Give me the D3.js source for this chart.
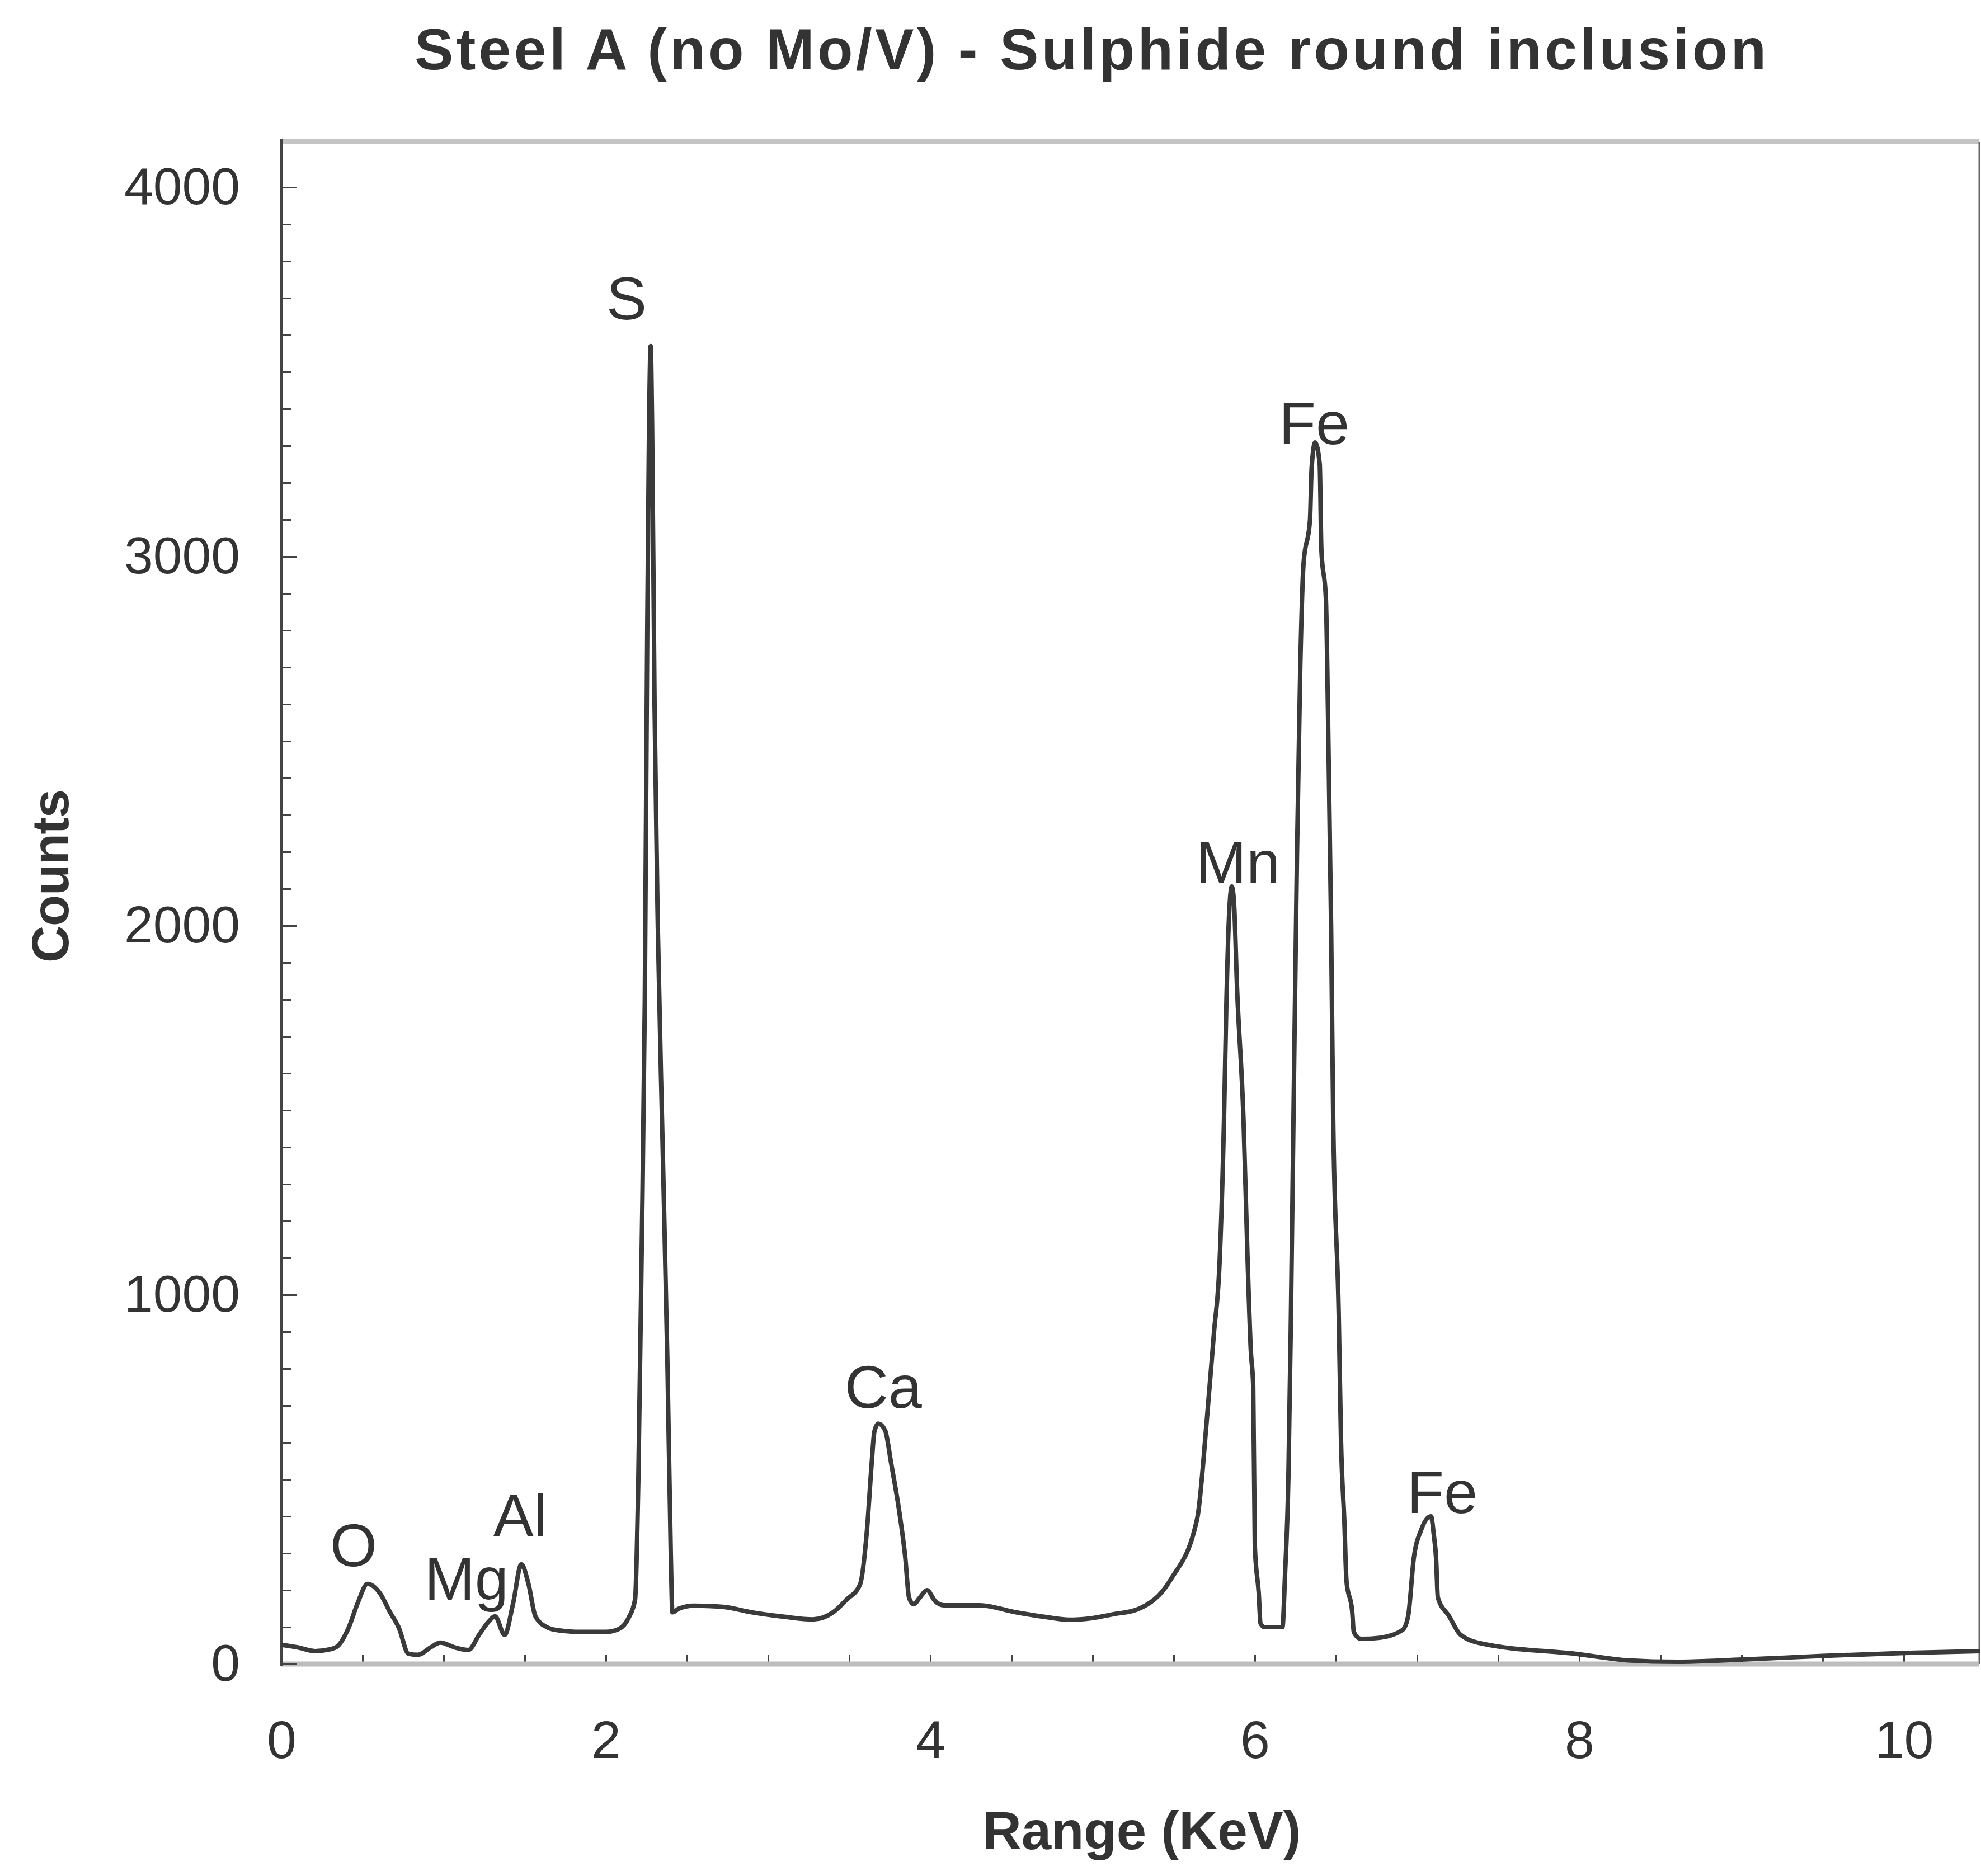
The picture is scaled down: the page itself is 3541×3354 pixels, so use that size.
<!DOCTYPE html>
<html>
<head>
<meta charset="utf-8">
<script src="https://cdn.jsdelivr.net/npm/d3@7"></script>
<style>
  html, body { margin: 0; padding: 0; background: #ffffff; }
  svg text { font-family: "Liberation Sans", Arial, sans-serif; fill: #333; }
</style>
</head>
<body>
<div id="chart"></div>
<script>
// spectrum (keV, counts)
const energy = [0.0, 0.1, 0.207, 0.3, 0.345, 0.414, 0.47, 0.531, 0.61, 0.67, 0.724, 0.783, 0.841, 0.92, 0.979,
  1.069, 1.152, 1.22, 1.276, 1.317, 1.376, 1.428, 1.479, 1.524, 1.566, 1.645, 1.714, 1.85, 2.0, 2.08, 2.14, 2.18,
  2.2, 2.22, 2.24, 2.255, 2.265, 2.276, 2.285, 2.3, 2.32, 2.35, 2.38, 2.4, 2.41, 2.45, 2.54, 2.72, 2.9, 3.1,
  3.276, 3.4, 3.483, 3.566, 3.61, 3.638, 3.655, 3.679, 3.721, 3.759, 3.807, 3.845, 3.869, 3.897, 3.935, 3.979,
  4.03, 4.083, 4.3, 4.541, 4.7, 4.855, 4.99, 5.13, 5.276, 5.483, 5.645, 5.703, 5.748, 5.783, 5.81, 5.825, 5.845,
  5.858, 5.872, 5.89, 5.93, 5.955, 5.975, 5.99, 6.0, 6.024, 6.035, 6.06, 6.17, 6.186, 6.207, 6.221, 6.238, 6.26,
  6.28, 6.3, 6.34, 6.35, 6.372, 6.4, 6.41, 6.438, 6.45, 6.47, 6.483, 6.517, 6.531, 6.552, 6.565, 6.6, 6.61,
  6.655, 6.77, 6.91, 6.945, 6.98, 7.024, 7.086, 7.103, 7.117, 7.128, 7.197, 7.266, 7.403, 7.99, 8.3, 8.6, 9.0,
  9.5, 10.0, 10.47];
const counts = [52, 45, 35, 40, 48, 98, 165, 217, 190, 140, 98, 28, 25, 45, 58,
  45, 38, 80, 114, 129, 79, 164, 270, 215, 129, 98, 91, 87, 87, 95, 125, 175,
  500, 1100, 1800, 2800, 3300, 3570, 3350, 2600, 2000, 1400, 800, 300, 140, 150, 158, 155, 140, 128,
  121, 140, 174, 215, 367, 542, 630, 651, 633, 542, 417, 290, 179, 162, 180, 200,
  170, 159, 159, 139, 128, 120, 124, 135, 148, 230, 395, 656, 897, 1091, 1477, 1800, 2060,
  2106, 2060, 1836, 1477, 1100, 850, 753, 318, 192, 110, 100, 100, 241, 510, 897, 1477, 2200,
  2700, 2980, 3100, 3240, 3309, 3250, 3020, 2885, 2600, 2000, 1477, 947, 607, 382, 224, 142, 86,
  68, 71, 92, 130, 288, 362, 400, 350, 288, 180, 130, 80, 55, 27, 10, 6, 12,
  22, 30, 35];

// peak annotations (label centre in keV / counts)
const peakNames = ["O", "Mg", "Al", "S", "Ca", "Mn", "Fe", "Fe"];
const peakKeV = [0.445, 1.141, 1.472, 2.128, 3.71, 5.897, 6.366, 7.155];
const peakCounts = [324, 233, 405, 3702, 753, 2174, 3364, 468];

const xTickValues = d3.range(0, 10.01, 0.5);
const yTickValues = d3.range(0, 4001, 100);

const width = 3541, height = 3354;
const plotLeft = 503, plotRight = 3538, plotTop = 253, plotBottom = 2975;

const svg = d3.select("#chart").append("svg")
    .attr("width", width)
    .attr("height", height);

svg.append("rect").attr("width", width).attr("height", height).attr("fill", "#fff");

var x = d3.scaleLinear().domain([0, 10]).range([plotLeft, plotLeft + 2900]);
var y = d3.scaleLinear().domain([0, 4000]).range([plotBottom, plotBottom - 2640]);

// frame
svg.append("line").attr("x1", plotLeft).attr("x2", plotRight).attr("y1", plotTop).attr("y2", plotTop)
    .attr("stroke", "#c4c4c4").attr("stroke-width", 9);
svg.append("line").attr("x1", plotRight).attr("x2", plotRight).attr("y1", plotTop).attr("y2", plotBottom)
    .attr("stroke", "#666").attr("stroke-width", 3);

// x axis, ticks inward every 0.5
var xAxis = svg.append("g")
    .attr("transform", "translate(0," + plotBottom + ")")
    .call(d3.axisBottom(x)
        .tickValues(xTickValues)
        .tickSize(-17)
        .tickPadding(101)
        .tickFormat(d => (d % 2 === 0 ? d : "")));
xAxis.select(".domain").remove();
xAxis.selectAll("line").attr("stroke", "#444").attr("stroke-width", 3);
xAxis.selectAll("text").style("font-size", "95px").attr("fill", "#333");

svg.append("line").attr("x1", plotLeft).attr("x2", plotRight).attr("y1", plotBottom).attr("y2", plotBottom)
    .attr("stroke", "#bdbdbd").attr("stroke-width", 9);

// y axis, ticks inward every 100
var yAxis = svg.append("g")
    .attr("transform", "translate(" + plotLeft + ",0)")
    .call(d3.axisLeft(y)
        .tickValues(yTickValues)
        .tickSize(-17)
        .tickPadding(74)
        .tickFormat(d => (d % 1000 === 0 ? d : "")));
yAxis.select(".domain").remove();
yAxis.selectAll("line").attr("stroke", "#444").attr("stroke-width", 3)
    .attr("x2", d => (d % 1000 === 0 ? 27 : 17));
yAxis.selectAll("text").style("font-size", "93px").attr("fill", "#333");

svg.append("line").attr("x1", plotLeft).attr("x2", plotLeft).attr("y1", plotTop - 4).attr("y2", plotBottom + 4)
    .attr("stroke", "#444").attr("stroke-width", 4);

// spectrum
const spectrum = energy.map((e, i) => [e, counts[i]]);
var line = d3.line()
    .x(d => x(d[0]))
    .y(d => y(d[1]))
    .curve(d3.curveMonotoneX);

svg.append("path")
    .datum(spectrum)
    .attr("fill", "none")
    .attr("stroke", "#3a3a3a")
    .attr("stroke-width", 8)
    .attr("stroke-linejoin", "round")
    .attr("d", line);

// peak labels
svg.selectAll(".peak")
    .data(peakNames)
    .enter().append("text")
    .attr("class", "peak")
    .attr("x", (d, i) => x(peakKeV[i]))
    .attr("y", (d, i) => y(peakCounts[i]))
    .attr("dy", "0.36em")
    .attr("text-anchor", "middle")
    .style("font-size", "108px")
    .text(d => d);

// titles
svg.append("text")
    .attr("x", 1949).attr("y", 124)
    .attr("text-anchor", "middle")
    .attr("textLength", 2416)
    .attr("lengthAdjust", "spacing")
    .style("font-size", "104px").style("font-weight", "bold")
    .text("Steel A (no Mo/V) - Sulphide round inclusion");

svg.append("text")
    .attr("x", 2041).attr("y", 3306)
    .attr("text-anchor", "middle")
    .attr("textLength", 569)
    .attr("lengthAdjust", "spacing")
    .style("font-size", "96px").style("font-weight", "bold")
    .text("Range (KeV)");

svg.append("text")
    .attr("transform", "translate(122,1566) rotate(-90)")
    .attr("text-anchor", "middle")
    .attr("textLength", 310)
    .attr("lengthAdjust", "spacing")
    .style("font-size", "92px").style("font-weight", "bold")
    .text("Counts");
</script>
</body>
</html>
